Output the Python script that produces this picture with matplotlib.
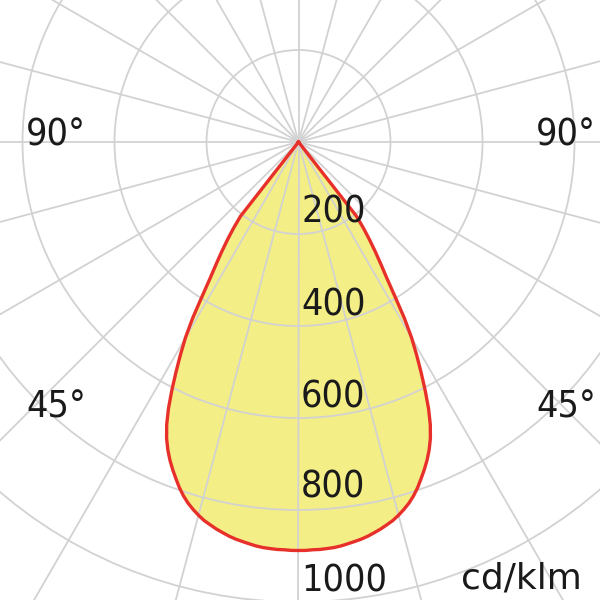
import numpy as np
import matplotlib.pyplot as plt

# luminous intensity distribution, half curve (symmetric), cd/klm, read every 1 deg
angles_deg = list(range(0, 40))
intensity = [888, 888, 887, 887, 886, 885, 883, 880, 877, 874,
             870, 865, 860, 854, 848, 840, 831, 821, 809, 795,
             779, 763, 746, 727, 705, 678, 645, 607, 568, 530,
             492, 447, 395, 352, 320, 291, 263, 235, 205, 0]

ring_values = [200, 400, 600, 800, 1000]
ring_labels = ["200", "400", "600", "800", "1000"]
angle_labels = ["90°", "90°", "45°", "45°"]
unit_label = "cd/klm"

# mirror the half curve
a = np.array(angles_deg)
i = np.array(intensity)
theta = np.deg2rad(np.concatenate([-a[::-1], a[1:]]))
r = np.concatenate([i[::-1], i[1:]])

W = 600
fig = plt.figure(figsize=(6, 6), dpi=100)

# polar axes centre sits at (298.5, 142) px, 0.46 px per cd/klm
cx, cy = 298.5 / W, 1 - 142 / W
rmax = 1200
rad = rmax * 0.46 / W
ax = fig.add_axes([cx - rad, cy - rad, 2 * rad, 2 * rad], projection="polar")
ax.set_theta_zero_location("S")
ax.set_ylim(0, rmax)
ax.set_rgrids(ring_values, labels=[""] * len(ring_values))
ax.set_thetagrids(np.arange(0, 360, 15), labels=[""] * 24)
ax.spines["polar"].set_visible(False)
ax.grid(True, color="#d2d2d2", linewidth=1.3)
ax.set_axisbelow(False)

ax.fill(theta, r, color="#f3ee86", zorder=1)
ax.plot(theta, r, color="#e8302a", linewidth=2.4, zorder=3,
        solid_joinstyle="round")

fam = ["DejaVu Sans"]
txt = "#1a1a1a"
fs = 27

# radial value labels (baseline px)
ring_base = [223, 315, 408, 497, 592]
for lab, yb in zip(ring_labels, ring_base):
    fig.text(301 / W, 1 - yb / W, lab, ha="left", va="baseline",
             fontsize=fs, family=fam, fontstretch="condensed", color=txt, zorder=5)

# angle labels
pos = [(26, 145, "left"), (596, 145, "right"), (26, 417, "left"), (596, 417, "right")]
for lab, (x, yb, ha) in zip(angle_labels, pos):
    fig.text(x / W, 1 - yb / W, lab, ha=ha, va="baseline",
             fontsize=fs, family=fam, fontstretch="condensed", color=txt, zorder=5)

fig.text(582 / W, 1 - 588 / W, unit_label, ha="right", va="baseline",
         fontsize=26, family=fam, color=txt, zorder=5)

fig.savefig("out.png", dpi=100, facecolor="white")
